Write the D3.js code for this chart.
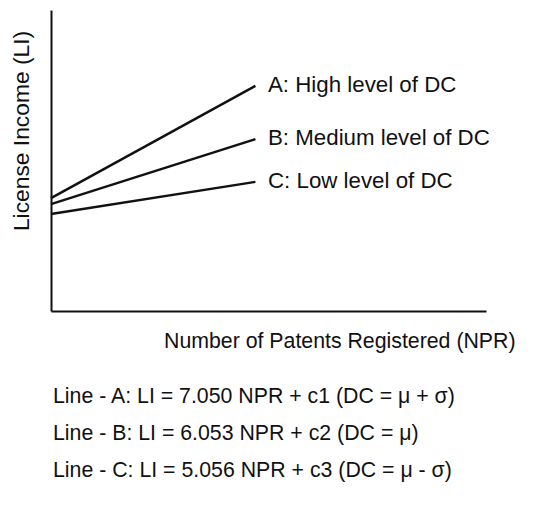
<!DOCTYPE html>
<html>
<head>
<meta charset="utf-8">
<script src="https://cdn.jsdelivr.net/npm/d3@7"></script>
<style>
  body { margin: 0; background: #fff; }
  svg text { font-family: "Liberation Sans", Arial, sans-serif; fill: #111; }
</style>
</head>
<body>
<svg id="graph"></svg>
<script>
// values (abstract units, axes have no ticks)
var lineNames = ["A", "B", "C"];
var lineLabels = ["A: High level of DC", "B: Medium level of DC", "C: Low level of DC"];
var npr = [0, 47];
var liA = [37.5, 74.8];
var liB = [35.5, 57.1];
var liC = [32.2, 42.9];
var equations = [
    "Line - A: LI = 7.050 NPR + c1 (DC = \u03bc + \u03c3)",
    "Line - B: LI = 6.053 NPR + c2 (DC = \u03bc)",
    "Line - C: LI = 5.056 NPR + c3 (DC = \u03bc - \u03c3)"
];

function setGraph(){
    var w = 550, h = 517;
    var svg = d3.select("#graph")
        .attr("width", w)
        .attr("height", h);

    var scaleX = d3.scaleLinear().domain([0, 100]).range([51, 486]);
    var scaleY = d3.scaleLinear().domain([0, 100]).range([311, 10]);

    // axes: just the bare domain lines
    svg.append("g")
        .attr("transform", "translate(51,0)")
        .call(d3.axisLeft(scaleY).ticks(0).tickSizeOuter(0))
        .select(".domain").attr("stroke", "#111").attr("stroke-width", 2);

    svg.append("g")
        .attr("transform", "translate(0,311)")
        .call(d3.axisBottom(scaleX).ticks(0).tickSizeOuter(0))
        .select(".domain").attr("stroke", "#111").attr("stroke-width", 2);

    var series = [liA, liB, liC];
    var line = d3.line()
        .x(function(d, i){ return scaleX(npr[i]); })
        .y(function(d){ return scaleY(d); });

    svg.append("g").selectAll("path")
        .data(series)
        .enter().append("path")
        .attr("d", line)
        .attr("fill", "none")
        .attr("stroke", "#111")
        .attr("stroke-width", 2.5);

    // labels at the end of each line
    var labelY = [92, 145, 188];
    svg.append("g").selectAll("text")
        .data(lineLabels)
        .enter().append("text")
        .attr("x", 268)
        .attr("y", function(d, i){ return labelY[i]; })
        .attr("font-size", 22.3)
        .text(function(d){ return d; });

    svg.append("text")
        .attr("text-anchor", "middle")
        .attr("transform", "translate(29,131) rotate(-90)")
        .attr("font-size", 22.8)
        .text("License Income (LI)");

    svg.append("text")
        .attr("x", 164)
        .attr("y", 348)
        .attr("font-size", 21.3)
        .text("Number of Patents Registered (NPR)");

    var eqY = [403, 440, 477];
    svg.append("g").selectAll("text")
        .data(equations)
        .enter().append("text")
        .attr("x", 53)
        .attr("y", function(d, i){ return eqY[i]; })
        .attr("font-size", 21.3)
        .text(function(d){ return d; });
}

setGraph();
</script>
</body>
</html>
